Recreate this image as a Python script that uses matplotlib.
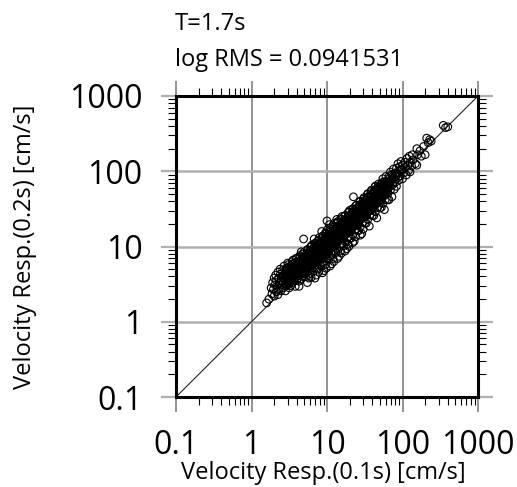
import numpy as np
import matplotlib
matplotlib.use("Agg")
import matplotlib.pyplot as plt
from matplotlib.ticker import LogLocator, FixedLocator, NullFormatter

plt.rcParams["font.family"] = ["Open Sans", "DejaVu Sans"]

# ---------------------------------------------------------------------------
# data: log10 of velocity response
# ---------------------------------------------------------------------------
low_x = [0.20, 0.23, 0.26, 0.27, 0.28, 0.29, 0.30, 0.30,
         0.31, 0.32, 0.33, 0.33, 0.34, 0.35, 0.35, 0.36, 0.37, 0.37, 0.38, 0.38, 0.39, 0.39, 0.40, 0.40,
         0.41, 0.41, 0.42, 0.42, 0.43, 0.43, 0.44, 0.44, 0.45, 0.45, 0.46, 0.46, 0.47, 0.47, 0.48, 0.48, 0.49, 0.49, 0.50, 0.50, 0.50,
         0.51, 0.51, 0.52, 0.52, 0.53, 0.53, 0.54, 0.54, 0.55, 0.55, 0.56, 0.56, 0.57, 0.57, 0.58, 0.58, 0.58, 0.59, 0.59, 0.60, 0.60, 0.60,
         0.61, 0.61, 0.62, 0.62, 0.63, 0.63, 0.64, 0.64, 0.65, 0.65, 0.66, 0.66, 0.67, 0.67, 0.68, 0.68, 0.68, 0.69, 0.69, 0.70, 0.70, 0.70, 0.66, 0.63,
         0.71, 0.71, 0.72, 0.72, 0.73, 0.73, 0.74, 0.74, 0.75, 0.75, 0.76, 0.76, 0.77, 0.77, 0.78, 0.78, 0.78, 0.79, 0.79, 0.80, 0.80, 0.80, 0.74, 0.77, 0.72, 0.79]
low_y = [0.25, 0.30, 0.45, 0.37, 0.52, 0.43, 0.58, 0.34,
         0.49, 0.62, 0.40, 0.55, 0.47, 0.66, 0.36, 0.58, 0.51, 0.44, 0.63, 0.70, 0.55, 0.41, 0.60, 0.49,
         0.53, 0.68, 0.45, 0.61, 0.74, 0.57, 0.50, 0.65, 0.41, 0.60, 0.71, 0.54, 0.63, 0.48, 0.78, 0.58, 0.67, 0.52, 0.61, 0.73, 0.45,
         0.56, 0.70, 0.63, 0.48, 0.76, 0.59, 0.67, 0.52, 0.82, 0.62, 0.71, 0.55, 0.65, 0.78, 0.60, 0.47, 0.72, 0.68, 0.84, 0.63, 0.55, 0.76,
         0.70, 0.58, 0.80, 0.66, 0.74, 0.54, 0.69, 0.86, 0.62, 0.77, 0.71, 0.57, 0.82, 0.66, 0.75, 0.90, 0.60, 0.79, 0.70, 0.84, 0.64, 0.74, 0.93, 0.47,
         0.78, 0.68, 0.88, 0.60, 0.82, 0.72, 0.95, 0.66, 0.86, 0.76, 0.58, 0.91, 0.80, 0.70, 0.99, 0.85, 0.64, 0.76, 0.92, 0.82, 0.71, 1.02, 0.52, 0.89, 0.77, 0.59]

mid_x = [0.81, 0.81, 0.82, 0.82, 0.83, 0.83, 0.84, 0.84, 0.85, 0.85, 0.86, 0.86, 0.87, 0.87, 0.88, 0.88, 0.88, 0.89, 0.89, 0.90, 0.90, 0.90, 0.84, 0.87, 0.82, 0.89, 0.86, 0.83,
         0.91, 0.91, 0.92, 0.92, 0.93, 0.93, 0.94, 0.94, 0.95, 0.95, 0.96, 0.96, 0.97, 0.97, 0.98, 0.98, 0.98, 0.99, 0.99, 1.00, 1.00, 1.00, 0.94, 0.97, 0.92, 0.99, 0.96, 0.93, 0.95, 0.99,
         1.01, 1.01, 1.02, 1.02, 1.03, 1.03, 1.04, 1.04, 1.05, 1.05, 1.06, 1.06, 1.07, 1.07, 1.08, 1.08, 1.08, 1.09, 1.09, 1.10, 1.10, 1.10, 1.04, 1.07, 1.02, 1.09, 1.06, 1.03, 1.05, 1.09,
         1.11, 1.11, 1.12, 1.12, 1.13, 1.13, 1.14, 1.14, 1.15, 1.15, 1.16, 1.16, 1.17, 1.17, 1.18, 1.18, 1.18, 1.19, 1.19, 1.20, 1.20, 1.20, 1.14, 1.17, 1.12, 1.19, 1.16, 1.13,
         1.21, 1.21, 1.22, 1.22, 1.23, 1.23, 1.24, 1.24, 1.25, 1.25, 1.26, 1.26, 1.27, 1.27, 1.28, 1.28, 1.28, 1.29, 1.29, 1.30, 1.30, 1.30, 1.24, 1.27, 1.22, 1.29,
         0.69, 1.00]
mid_y = [0.87, 0.76, 0.97, 0.67, 0.90, 0.80, 1.04, 0.72, 0.93, 0.84, 0.62, 1.00, 0.88, 0.78, 1.08, 0.95, 0.70, 0.85, 1.01, 0.91, 0.77, 1.12, 0.58, 0.97, 0.85, 0.66, 0.91, 1.10,
         0.96, 0.83, 1.06, 0.74, 0.99, 0.88, 1.14, 0.79, 1.02, 0.92, 0.68, 1.09, 0.97, 0.86, 1.18, 1.04, 0.76, 0.93, 1.10, 1.00, 0.84, 1.22, 0.65, 1.07, 0.92, 0.71, 1.00, 1.20, 0.84, 1.01,
         1.05, 0.92, 1.15, 0.82, 1.08, 0.97, 1.24, 0.87, 1.11, 1.00, 0.77, 1.18, 1.06, 0.94, 1.28, 1.13, 0.84, 1.02, 1.20, 1.09, 0.93, 1.31, 0.74, 1.16, 1.01, 0.80, 1.09, 1.29, 0.91, 1.12,
         1.14, 1.01, 1.24, 0.92, 1.17, 1.06, 1.33, 0.97, 1.20, 1.09, 0.87, 1.27, 1.15, 1.03, 1.37, 1.22, 0.94, 1.11, 1.29, 1.18, 1.02, 1.40, 0.84, 1.25, 1.10, 0.91, 1.18, 1.36,
         1.23, 1.10, 1.33, 1.01, 1.26, 1.15, 1.41, 1.06, 1.29, 1.18, 0.97, 1.36, 1.24, 1.12, 1.45, 1.31, 1.03, 1.20, 1.38, 1.27, 1.11, 1.48, 0.94, 1.34, 1.19, 1.00,
         1.10, 1.34]

high_x = [1.31, 1.31, 1.32, 1.32, 1.33, 1.33, 1.34, 1.34, 1.35, 1.35, 1.36, 1.36, 1.37, 1.37, 1.38, 1.38, 1.38, 1.39, 1.39, 1.40, 1.40, 1.34, 1.37, 1.32,
          1.41, 1.41, 1.42, 1.42, 1.43, 1.43, 1.44, 1.44, 1.45, 1.45, 1.46, 1.46, 1.47, 1.47, 1.48, 1.48, 1.48, 1.49, 1.49, 1.50, 1.50, 1.44, 1.47,
          1.51, 1.51, 1.52, 1.52, 1.53, 1.53, 1.54, 1.54, 1.55, 1.55, 1.56, 1.56, 1.57, 1.57, 1.58, 1.58, 1.59, 1.59, 1.60, 1.60,
          1.61, 1.61, 1.62, 1.62, 1.63, 1.63, 1.64, 1.64, 1.65, 1.65, 1.66, 1.66, 1.67, 1.67, 1.68, 1.68, 1.69, 1.69, 1.70, 1.70,
          1.71, 1.71, 1.72, 1.72, 1.73, 1.73, 1.74, 1.74, 1.75, 1.75, 1.76, 1.76, 1.77, 1.77, 1.78, 1.78, 1.79, 1.80, 1.80,
          1.35]
high_y = [1.33, 1.20, 1.43, 1.11, 1.36, 1.25, 1.50, 1.16, 1.39, 1.28, 1.07, 1.46, 1.34, 1.22, 1.54, 1.41, 1.13, 1.30, 1.47, 1.37, 1.21, 1.05, 1.44, 1.29,
          1.43, 1.30, 1.53, 1.21, 1.46, 1.35, 1.60, 1.26, 1.49, 1.38, 1.17, 1.56, 1.44, 1.32, 1.63, 1.51, 1.23, 1.40, 1.57, 1.47, 1.31, 1.15, 1.54,
          1.53, 1.40, 1.62, 1.31, 1.56, 1.45, 1.70, 1.36, 1.59, 1.48, 1.27, 1.66, 1.54, 1.42, 1.73, 1.61, 1.50, 1.67, 1.57, 1.41,
          1.63, 1.50, 1.72, 1.41, 1.66, 1.55, 1.80, 1.46, 1.69, 1.58, 1.38, 1.76, 1.64, 1.52, 1.83, 1.71, 1.60, 1.77, 1.67, 1.51,
          1.73, 1.61, 1.83, 1.52, 1.76, 1.65, 1.90, 1.57, 1.79, 1.68, 1.49, 1.86, 1.74, 1.62, 1.93, 1.81, 1.70, 1.77, 1.62,
          1.66]

top_x = [1.81, 1.81, 1.82, 1.82, 1.83, 1.84, 1.84, 1.85, 1.86, 1.86, 1.87, 1.88, 1.88, 1.89, 1.90, 1.90,
         1.91, 1.92, 1.92, 1.93, 1.94, 1.95, 1.96, 1.97, 1.98, 1.99, 2.00, 2.00,
         2.02, 2.03, 2.04, 2.05, 2.06, 2.07, 2.08, 2.09, 2.10, 2.10, 2.12, 2.13, 2.14,
         2.17, 2.19, 2.19, 2.20, 2.23, 2.25, 2.28, 2.30, 2.32, 2.34, 2.36, 2.38,
         2.54, 2.57, 2.60]
top_y = [1.84, 1.71, 1.93, 1.62, 1.86, 1.99, 1.75, 1.89, 1.66, 1.96, 1.82, 2.03, 1.90, 1.76, 1.97, 1.85,
         1.93, 2.04, 1.80, 1.97, 2.10, 1.88, 2.06, 1.94, 2.13, 2.01, 1.90, 2.08,
         1.98, 2.12, 2.05, 1.95, 2.17, 2.08, 2.01, 2.20, 1.99, 2.12, 2.07, 2.22, 2.15,
         2.10, 2.08, 2.30, 2.22, 2.27, 2.20, 2.33, 2.22, 2.44, 2.38, 2.42, 2.40,
         2.61, 2.58, 2.59]

# the solid black core of the cloud
core_x = [0.45, 0.46, 0.46, 0.47, 0.47, 0.48, 0.48, 0.49,
          0.50, 0.51, 0.51, 0.52, 0.52, 0.53, 0.53, 0.54,
          0.55, 0.56, 0.56, 0.57, 0.57, 0.58, 0.58, 0.59,
          0.60, 0.61, 0.61, 0.62, 0.62, 0.63, 0.63, 0.64,
          0.65, 0.66, 0.66, 0.67, 0.67, 0.68, 0.68, 0.69,
          0.70, 0.71, 0.71, 0.72, 0.72, 0.73, 0.73, 0.74,
          0.75, 0.76, 0.76, 0.77, 0.77, 0.78, 0.78, 0.79,
          0.80, 0.81, 0.81, 0.82, 0.82, 0.83, 0.83, 0.84,
          0.85, 0.86, 0.86, 0.87, 0.87, 0.88, 0.88, 0.89,
          0.90, 0.91, 0.91, 0.92, 0.92, 0.93, 0.93, 0.94,
          0.95, 0.96, 0.96, 0.97, 0.97, 0.98, 0.98, 0.99,
          1.00, 1.01, 1.01, 1.02, 1.02, 1.03, 1.03, 1.04,
          1.05, 1.06, 1.06, 1.07, 1.07, 1.08, 1.08, 1.09,
          1.10, 1.11, 1.11, 1.12, 1.12, 1.13, 1.13, 1.14,
          1.15, 1.16, 1.16, 1.17, 1.17, 1.18, 1.18, 1.19,
          1.20, 1.21, 1.21, 1.22, 1.22, 1.23, 1.23, 1.24,
          1.25, 1.26, 1.26, 1.27, 1.27, 1.28, 1.28, 1.29,
          1.30, 1.31, 1.31, 1.32, 1.32, 1.33, 1.33, 1.34,
          1.35, 1.36, 1.36, 1.37, 1.37, 1.38, 1.38, 1.39,
          1.40, 1.41, 1.41, 1.42, 1.42, 1.43, 1.43, 1.44,
          1.45, 1.46, 1.46, 1.47, 1.47, 1.48, 1.48, 1.49,
          1.50, 1.51, 1.51, 1.52, 1.52, 1.53, 1.53, 1.54,
          1.55, 1.56, 1.56, 1.57, 1.57, 1.58, 1.58, 1.59,
          1.60, 1.61, 1.61, 1.62, 1.62, 1.63, 1.63, 1.64,
          1.65, 1.66, 1.66, 1.67, 1.67, 1.68,
          1.70, 1.71, 1.71, 1.72, 1.72, 1.73,
          1.75, 1.76, 1.77, 1.78, 1.79,
          1.80, 1.82, 1.84, 1.86,
          1.88, 1.91, 1.94, 1.97]
core_y = [0.52, 0.64, 0.57, 0.69, 0.50, 0.61, 0.55, 0.66,
          0.58, 0.71, 0.55, 0.66, 0.61, 0.74, 0.57, 0.68,
          0.60, 0.73, 0.66, 0.78, 0.58, 0.69, 0.63, 0.75,
          0.66, 0.79, 0.62, 0.73, 0.69, 0.81, 0.64, 0.76,
          0.70, 0.83, 0.67, 0.78, 0.73, 0.86, 0.68, 0.80,
          0.74, 0.88, 0.70, 0.82, 0.77, 0.91, 0.72, 0.84,
          0.78, 0.92, 0.74, 0.86, 0.81, 0.95, 0.76, 0.88,
          0.81, 0.96, 0.77, 0.89, 0.85, 0.99, 0.80, 0.92,
          0.85, 1.00, 0.81, 0.93, 0.89, 1.03, 0.84, 0.96,
          0.89, 1.04, 0.84, 0.97, 0.92, 1.07, 0.87, 1.00,
          0.94, 1.09, 0.89, 1.02, 0.97, 1.12, 0.91, 1.05,
          0.97, 1.13, 0.93, 1.06, 1.01, 1.16, 0.95, 1.09,
          1.02, 1.18, 0.98, 1.11, 1.06, 1.21, 1.00, 1.14,
          1.07, 1.23, 1.03, 1.16, 1.11, 1.26, 1.05, 1.19,
          1.12, 1.28, 1.08, 1.21, 1.16, 1.31, 1.10, 1.24,
          1.17, 1.32, 1.12, 1.25, 1.20, 1.35, 1.14, 1.28,
          1.22, 1.37, 1.17, 1.30, 1.25, 1.40, 1.19, 1.33,
          1.27, 1.42, 1.22, 1.35, 1.30, 1.45, 1.24, 1.38,
          1.32, 1.47, 1.27, 1.40, 1.35, 1.50, 1.29, 1.43,
          1.37, 1.52, 1.32, 1.45, 1.40, 1.55, 1.34, 1.48,
          1.42, 1.57, 1.37, 1.50, 1.45, 1.60, 1.39, 1.53,
          1.47, 1.62, 1.42, 1.55, 1.50, 1.65, 1.44, 1.58,
          1.52, 1.67, 1.47, 1.60, 1.55, 1.70, 1.49, 1.63,
          1.57, 1.72, 1.52, 1.65, 1.60, 1.75, 1.54, 1.68,
          1.62, 1.77, 1.57, 1.70, 1.65, 1.80,
          1.67, 1.82, 1.62, 1.75, 1.70, 1.85,
          1.72, 1.86, 1.68, 1.80, 1.75,
          1.78, 1.90, 1.80, 1.92,
          1.86, 1.98, 1.92, 2.02]

core2_x = [0.47, 0.48, 0.49, 0.49, 0.50, 0.51,
           0.52, 0.53, 0.54, 0.54, 0.55, 0.56,
           0.57, 0.58, 0.59, 0.59, 0.60, 0.61,
           0.62, 0.63, 0.64, 0.64, 0.65, 0.66,
           0.67, 0.68, 0.69, 0.69, 0.70, 0.71,
           0.72, 0.73, 0.74, 0.74, 0.75, 0.76,
           0.77, 0.78, 0.79, 0.79, 0.80, 0.81,
           0.82, 0.83, 0.84, 0.84, 0.85, 0.86,
           0.87, 0.88, 0.89, 0.89, 0.90, 0.91,
           0.92, 0.93, 0.94, 0.94, 0.95, 0.96,
           0.97, 0.98, 0.99, 0.99, 1.00, 1.01,
           1.02, 1.03, 1.04, 1.04, 1.05, 1.06,
           1.07, 1.08, 1.09, 1.09, 1.10, 1.11,
           1.12, 1.13, 1.14, 1.14, 1.15, 1.16,
           1.17, 1.18, 1.19, 1.19, 1.20, 1.21,
           1.22, 1.23, 1.24, 1.24, 1.25, 1.26,
           1.27, 1.28, 1.29, 1.29, 1.30, 1.31,
           1.32, 1.33, 1.34, 1.34, 1.35, 1.36,
           1.37, 1.38, 1.39, 1.39, 1.40, 1.41,
           1.42, 1.43, 1.44, 1.44, 1.45, 1.46,
           1.47, 1.48, 1.49, 1.49, 1.50, 1.51,
           1.52, 1.53, 1.54, 1.54, 1.55, 1.56,
           1.57, 1.58, 1.59, 1.59, 1.60, 1.61,
           1.62, 1.63, 1.64, 1.64, 1.65, 1.66,
           1.67, 1.68, 1.69, 1.70, 1.71,
           1.73, 1.75, 1.77, 1.79]
core2_y = [0.49, 0.63, 0.60, 0.76, 0.56, 0.70,
           0.53, 0.67, 0.64, 0.80, 0.60, 0.74,
           0.57, 0.71, 0.68, 0.84, 0.64, 0.78,
           0.61, 0.75, 0.72, 0.88, 0.68, 0.82,
           0.65, 0.79, 0.76, 0.92, 0.72, 0.86,
           0.69, 0.83, 0.80, 0.96, 0.76, 0.90,
           0.73, 0.87, 0.84, 1.00, 0.80, 0.94,
           0.77, 0.91, 0.88, 1.04, 0.84, 0.98,
           0.81, 0.95, 0.92, 1.08, 0.88, 1.02,
           0.85, 0.99, 0.96, 1.12, 0.92, 1.06,
           0.90, 1.04, 1.01, 1.17, 0.97, 1.11,
           0.94, 1.08, 1.05, 1.21, 1.01, 1.15,
           0.99, 1.13, 1.10, 1.26, 1.06, 1.20,
           1.04, 1.18, 1.15, 1.31, 1.11, 1.25,
           1.09, 1.23, 1.20, 1.36, 1.16, 1.30,
           1.14, 1.28, 1.25, 1.41, 1.21, 1.35,
           1.19, 1.33, 1.30, 1.46, 1.26, 1.40,
           1.23, 1.37, 1.34, 1.50, 1.30, 1.44,
           1.28, 1.42, 1.39, 1.55, 1.35, 1.49,
           1.33, 1.47, 1.44, 1.60, 1.40, 1.54,
           1.38, 1.52, 1.49, 1.65, 1.45, 1.59,
           1.43, 1.57, 1.54, 1.70, 1.50, 1.64,
           1.48, 1.62, 1.59, 1.75, 1.55, 1.69,
           1.53, 1.67, 1.64, 1.80, 1.60, 1.74,
           1.58, 1.72, 1.69, 1.65, 1.79,
           1.70, 1.82, 1.74, 1.86]

period = "T=1.7s"
log_rms = 0.0941531
tick_vals = [0.1, 1, 10, 100, 1000]
tick_labels = ["0.1", "1", "10", "100", "1000"]

vel_01 = 10 ** np.array(low_x + mid_x + high_x + top_x + core_x + core2_x)
vel_02 = 10 ** np.array(low_y + mid_y + high_y + top_y + core_y + core2_y)

# ---------------------------------------------------------------------------
fig = plt.figure(figsize=(5.17, 4.87), dpi=100)
ax = fig.add_axes([176 / 517, 1 - 397 / 487, 302 / 517, 301 / 487])
ax.set_xscale("log")
ax.set_yscale("log")
ax.set_xlim(0.1, 1000)
ax.set_ylim(0.1, 1000)

# grid (vertical darker than horizontal, as in the original)
for v in tick_vals[1:-1]:
    ax.axvline(v, color="#808080", lw=1.2, zorder=1)
    ax.axhline(v, color="#b0b0b0", lw=1.8, zorder=1)

ax.plot([0.1, 1000], [0.1, 1000], color="#222", lw=0.8, zorder=2)
ax.scatter(vel_01, vel_02, s=30, facecolors="none", edgecolors="black",
           linewidths=0.8, zorder=3)

# ticks: major = grey extensions of the grid, minor = short black
for axis in (ax.xaxis, ax.yaxis):
    axis.set_major_locator(FixedLocator(tick_vals))
    axis.set_minor_locator(LogLocator(base=10, subs=np.arange(2, 10)))
    axis.set_minor_formatter(NullFormatter())
ax.set_xticklabels(tick_labels)
ax.set_yticklabels(tick_labels)
ax.tick_params(which="both", direction="out", top=True, right=True,
               labelsize=23)
ax.tick_params(which="major", length=11, width=1.2)
ax.tick_params(axis="x", which="major", color="#808080", pad=12)
ax.tick_params(axis="y", which="major", color="#b0b0b0", width=1.6, pad=13)
ax.tick_params(which="minor", length=5.5, width=0.8, color="black")

for sp in ax.spines.values():
    sp.set_linewidth(2.2)
    sp.set_zorder(5)

ax.set_xlabel("Velocity Resp.(0.1s) [cm/s]", fontsize=17)
ax.xaxis.label.set_va("center")
ax.xaxis.set_label_coords(0.487, -0.2525)
ax.set_ylabel("Velocity Resp.(0.2s) [cm/s]", fontsize=17)
ax.yaxis.label.set_va("center")
ax.yaxis.set_label_coords(-0.50, 0.5)

fig.text(175 / 517, 1 - 23.5 / 487, period, fontsize=17, ha="left", va="center")
fig.text(175 / 517, 1 - 59.5 / 487, f"log RMS = {log_rms}", fontsize=17,
         ha="left", va="center")

fig.savefig("out.png", dpi=100)
